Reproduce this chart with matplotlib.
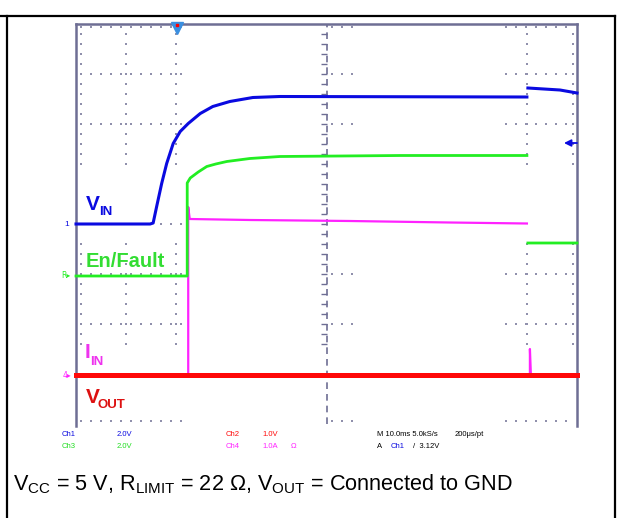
import numpy as np
import matplotlib
matplotlib.use("Agg")
import matplotlib.pyplot as plt

plt.rcParams["font.family"] = ["Liberation Sans", "DejaVu Sans"]
plt.rcParams["mathtext.fontset"] = "custom"
plt.rcParams["mathtext.rm"] = "Liberation Sans"

nan = float("nan")

# traces, in scope divisions (10 horizontal x 8 vertical); nan = gap in the capture
vin_t = [0, 1.48, 1.54, 1.61, 1.71, 1.81, 1.94, 2.08, 2.24, 2.48, 2.73, 3.07,
         3.53, 4.07, 9.0, nan, 9.02, 9.66, 10.0]
vin_v = [4.0, 4.0, 4.02, 4.35, 4.81, 5.21, 5.61, 5.85, 6.01, 6.21, 6.35, 6.45,
         6.53, 6.55, 6.54, nan, 6.72, 6.68, 6.62]

en_t = [0, 2.22, 2.22, 2.28, 2.44, 2.61, 2.79, 3.01, 3.47, 4.07, 6.47, 9.0,
        nan, 9.02, 10.0]
en_v = [2.96, 2.96, 4.82, 4.92, 5.04, 5.15, 5.20, 5.25, 5.31, 5.35, 5.37, 5.37,
        nan, 3.62, 3.62]

iin_t = [0, 2.24, 2.24, 2.27, 3.47, 5.47, 7.46, 9.0, nan, 9.02, 9.06, 9.06,
         9.08, 10.0]
iin_v = [0.96, 0.96, 4.34, 4.10, 4.08, 4.06, 4.03, 4.01, nan, 0.96, 0.96, 1.50,
         0.96, 0.96]

vout_t = [0, 10.0]
vout_v = [0.98, 0.98]

trig_t = 2.02
trig_level = 5.62

BLUE = "#0a0ae0"
GREEN = "#22ee22"
MAGENTA = "#ff22ff"
RED = "#ff0808"
GRID = "#9090ac"
FRAME = "#6e6e94"

fig = plt.figure(figsize=(6.22, 5.18), dpi=100)
W, H = 622, 518
ax = fig.add_axes([76 / W, (H - 424) / H, 501 / W, 400 / H])
ax.set_xlim(0, 10)
ax.set_ylim(0, 8)
ax.axis("off")

# graticule: dotted only in a few column bands, as on the capture
bands = [(0.1, 2.24), (5.1, 5.65), (8.58, 9.95)]
ybands = [(1.6, 3.6), (5.2, 7.95)]
xs, ys = [], []
for a, b in bands:
    for yy in [0.06, 2, 3, 6, 7, 7.95]:
        pts = np.arange(a, b + 1e-6, 0.2)
        xs += list(pts)
        ys += [yy] * len(pts)
pts = np.arange(0.1, 2.25, 0.2)
xs += list(pts)
ys += [4.0] * len(pts)
for xx in [0.1, 1, 2, 9, 9.92]:
    for a, b in ybands:
        pts = np.arange(a, b + 1e-6, 0.2)
        xs += [xx] * len(pts)
        ys += list(pts)
ax.scatter(xs, ys, s=1.8, marker="s", color=GRID, linewidths=0, zorder=1)

# center line with minor ticks
ax.plot([5, 5], [0, 8], ls=(0, (4, 3)), color=FRAME, lw=1.2, zorder=1)
ticks = np.arange(1.6, 8.0, 0.2)
ax.hlines(ticks, 4.9, 5.0, color=FRAME, lw=1.0, zorder=1)

# frame (no bottom edge)
ax.plot([0, 10], [8, 8], color=FRAME, lw=1.8, clip_on=False, zorder=2)
ax.plot([0, 0], [-0.04, 8], color=FRAME, lw=1.8, clip_on=False, zorder=2)
ax.plot([10, 10], [-0.04, 8], color=FRAME, lw=1.8, clip_on=False, zorder=2)

# traces
ax.plot(iin_t, iin_v, color=MAGENTA, lw=1.6, zorder=3, clip_on=False)
ax.plot(vout_t, vout_v, color=RED, lw=3.6, zorder=4, clip_on=False)
ax.plot(en_t, en_v, color=GREEN, lw=2.0, zorder=3, clip_on=False)
ax.plot(vin_t, vin_v, color=BLUE, lw=2.2, zorder=5, clip_on=False)

# trigger marker and level arrow
ax.plot(trig_t, 7.92, marker="v", ms=8, color="#3b8fe0", clip_on=False, zorder=6)
ax.plot(trig_t, 7.98, marker="s", ms=1.5, color="red", clip_on=False, zorder=7)
ax.annotate("", xy=(9.74, trig_level), xytext=(10.0, trig_level),
            arrowprops=dict(arrowstyle="-|>", color=BLUE, lw=1.3,
                            mutation_scale=10, shrinkA=0, shrinkB=0),
            zorder=6)

# overlay in pixel coordinates for text and outer box
ov = fig.add_axes([0, 0, 1, 1])
ov.set_xlim(0, W)
ov.set_ylim(H, 0)
ov.axis("off")
ov.plot([0, 615], [16, 16], color="black", lw=1.6)
ov.plot([7, 7], [16, H], color="black", lw=1.6)
ov.plot([615, 615], [16, H], color="black", lw=1.6)

# channel ground markers
ov.text(64, 224, "1", color=BLUE, fontsize=6, va="center", ha="left")
ov.text(61, 276, "R▸", color=GREEN, fontsize=5.5, va="center", ha="left",
        family=["DejaVu Sans"])
ov.text(63, 375, "4▸", color=MAGENTA, fontsize=5.5, va="center", ha="left",
        family=["DejaVu Sans"])

# trace labels
bold = dict(fontweight="bold", va="baseline", ha="left")
ov.text(86, 210, "V", color=BLUE, fontsize=15, **bold)
ov.text(99, 215, "IN", color=BLUE, fontsize=9.5, **bold)
ov.text(86, 267, "En/Fault", color="#33dd33", fontsize=14.5, **bold)
ov.text(85, 358, "I", color="#ee33ee", fontsize=15, **bold)
ov.text(90, 365, "IN", color="#ee33ee", fontsize=9.5, **bold)
ov.text(86, 403, "V", color="#dd1111", fontsize=15, **bold)
ov.text(98, 408, "OUT", color="#dd1111", fontsize=9.5, **bold)

# scope readouts
small = dict(fontsize=5.5, va="center", ha="left")
ov.text(62, 434, "Ch1", color=BLUE, **small)
ov.text(117, 434, "2.0V", color=BLUE, **small)
ov.text(62, 446, "Ch3", color="#22dd22", **small)
ov.text(117, 446, "2.0V", color="#22dd22", **small)
ov.text(226, 434, "Ch2", color=RED, **small)
ov.text(262, 434, "1.0V", color=RED, **small)
ov.text(226, 446, "Ch4", color=MAGENTA, **small)
ov.text(262, 446, "1.0A", color=MAGENTA, **small)
ov.text(291, 446, "Ω", color=MAGENTA, **small)
ov.text(377, 434, "M 10.0ms 5.0kS/s", color="black", **small)
ov.text(455, 434, "200μs/pt", color="black", **small)
ov.text(377, 446, "A", color="black", **small)
ov.text(391, 446, "Ch1", color=BLUE, **small)
ov.text(413, 446, "/  3.12V", color="black", **small)

# caption
ov.text(13, 490, r"$\mathregular{V_{CC}}$ = 5 V, $\mathregular{R_{LIMIT}}$ = 22 Ω, "
        r"$\mathregular{V_{OUT}}$ = Connected to GND",
        fontsize=15.6, color="black", va="baseline", ha="left")

fig.savefig("out.png", dpi=100)
